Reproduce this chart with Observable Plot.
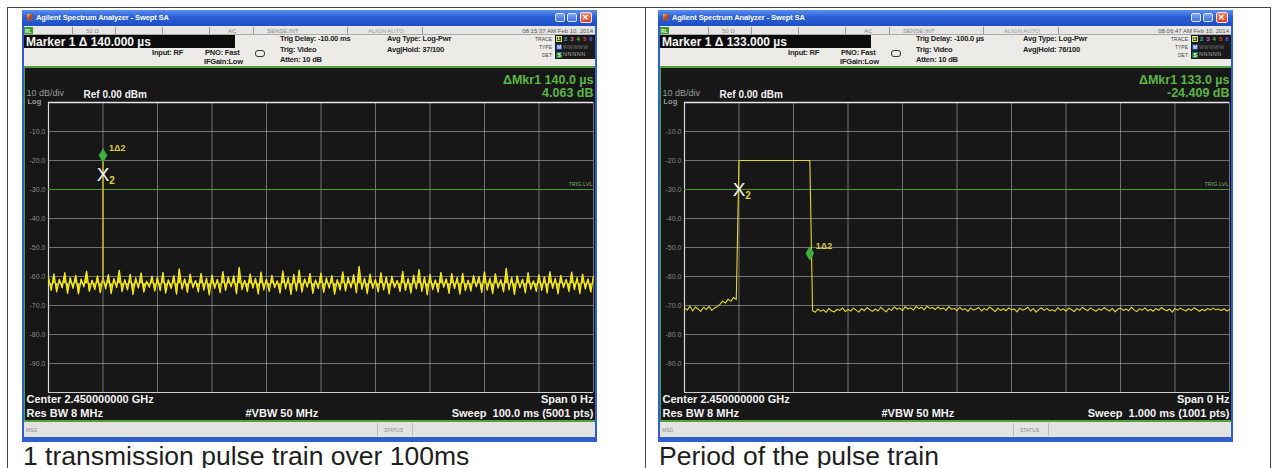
<!DOCTYPE html>
<html><head><meta charset="utf-8">
<script src="https://cdn.jsdelivr.net/npm/d3@7"></script>
<script src="https://cdn.jsdelivr.net/npm/@observablehq/plot@0.6"></script>
<style>
html,body{margin:0;padding:0;background:#fff;width:1276px;height:468px;overflow:hidden;font-family:"Liberation Sans",Arial,sans-serif;}
#root{position:relative;width:1276px;height:468px;overflow:hidden;}
.win{position:absolute;top:10px;width:575px;height:432px;background:#2f5fcc;}
.win svg{position:absolute;left:3px;top:58px;}
.caption{position:absolute;top:441px;font-size:26.5px;color:#1e1e1e;line-height:30px;white-space:nowrap;}
</style></head>
<body><div id="root"></div>
<script>
// ---------------- data ----------------
const dbGridTicks = [-100,-90,-80,-70,-60,-50,-40,-30,-20,-10,0];
const dbLabelTicks = [-10,-20,-30,-40,-50,-60,-70,-80,-90];
const trigLevelDbm = [-30];

// left panel: 100 ms sweep, trigger delay -10 ms
const leftTimeTicksMs = [-10,0,10,20,30,40,50,60,70,80,90];
const leftStartMs = -10, leftStepMs = 0.5;
const leftNoiseCenterDbm = -62.5;
const leftNoiseDbm = [
-60.2,-64.8,-59.1,-65.3,-61.0,-63.9,-58.7,-65.8,-60.4,-64.1,-59.6,-66.0,-60.9,-63.6,-58.2,-65.1,-61.3,-64.5,-59.8,-65.6,
-60.1,-64.3,-59.4,-65.9,-60.7,-63.8,-57.9,-65.2,-61.1,-64.6,-59.3,-66.2,-60.5,-64.0,-58.8,-65.4,-61.6,-63.7,-59.9,-65.0,
-60.3,-64.9,-58.6,-65.7,-61.2,-64.2,-59.7,-66.1,-57.4,-64.4,-60.8,-65.5,-59.2,-63.9,-61.4,-65.3,-58.9,-64.7,-60.6,-66.3,
-59.5,-64.1,-61.0,-65.6,-58.3,-64.8,-60.2,-63.6,-59.8,-65.9,-56.9,-64.5,-61.3,-65.2,-59.1,-64.0,-60.7,-66.0,-58.5,-64.6,
-60.9,-65.1,-59.6,-63.8,-61.5,-65.7,-58.1,-64.3,-60.4,-66.2,-59.3,-64.9,-57.8,-65.4,-60.8,-63.7,-59.0,-65.8,-61.2,-64.2,
-58.8,-65.5,-60.5,-64.0,-59.7,-66.1,-61.1,-64.7,-58.4,-65.0,-60.3,-63.9,-59.4,-65.6,-56.5,-64.4,-60.6,-65.9,-59.2,-64.1,
-61.0,-65.3,-58.7,-64.6,-60.1,-66.0,-59.9,-63.8,-61.4,-65.2,-58.2,-64.8,-60.7,-65.7,-59.5,-64.3,-57.6,-65.1,-60.2,-66.3,
-59.3,-64.5,-61.2,-65.4,-58.6,-63.7,-60.8,-65.8,-59.0,-64.2,-60.4,-66.1,-58.9,-64.9,-61.3,-65.0,-59.7,-63.6,-60.0,-65.5,
-58.4,-64.7,-60.6,-65.9,-59.1,-64.0,-61.1,-65.3,-57.2,-64.6,-60.3,-66.2,-59.8,-63.9,-60.9,-65.6,-58.7,-64.4,-61.5,-65.1,
-59.4,-64.8,-60.1,-65.7,-58.3,-64.1,-60.7,-66.0,-59.6,-63.8,-61.0,-65.2,-58.5,-64.5,-60.4,-65.9,-59.2,-64.3,-60.8,-65.4,
-60.0];
const leftSpikeTimeMs = [0];
const leftSpikeBaseDbm = [-62];
const leftSpikeTopDbm = [-17];
const leftRefMarkerTime = [0], leftRefMarkerDbm = [-25];
const leftDeltaMarkerTime = [0], leftDeltaMarkerDbm = [-18.3];

// right panel: 1 ms sweep, trigger delay -100 us
const rightTimeTicksUs = [-100,0,100,200,300,400,500,600,700,800,900];
const rightStartUs = -100, rightStepUs = 5;
const rightTraceDbm = [
-70.8,-71.6,-70.2,-71.9,-70.5,-71.2,-72.0,-70.6,-71.4,-70.3,-71.7,-70.9,
-70.4,-69.6,-68.5,-69.2,-67.8,-68.6,-67.2,-68.0,
-20,-20,-20,-20,-20,-20,-20,-20,-20,-20,-20,-20,-20,-20,-20,-20,-20,-20,-20,-20,-20,-20,-20,-20,-20,-20,-20,
-71.8,-72.3,-71.2,-72.0,-71.5,-72.4,-71.0,-71.9,-72.2,-71.3,
-71.7,-70.8,-72.1,-71.4,-71.9,-70.9,-71.6,-72.3,-71.1,-71.8,
-70.7,-71.5,-72.0,-71.2,-71.9,-70.6,-71.4,-72.2,-71.0,-71.7,
-70.5,-71.3,-70.9,-71.8,-70.4,-71.2,-70.8,-71.6,-70.3,-71.1,
-70.6,-71.5,-70.2,-71.0,-70.7,-71.4,-70.5,-71.2,-70.9,-71.7,
-70.4,-71.3,-71.0,-71.8,-70.6,-71.5,-71.1,-72.0,-70.8,-71.6,
-71.2,-70.7,-71.9,-71.0,-71.6,-70.5,-71.3,-72.1,-70.9,-71.7,
-71.1,-71.8,-70.8,-71.5,-71.2,-72.2,-70.9,-71.6,-71.3,-70.6,
-71.9,-71.1,-72.3,-71.4,-70.8,-71.7,-71.0,-71.8,-71.5,-72.0,
-70.7,-71.6,-71.2,-71.9,-70.9,-71.4,-72.1,-71.0,-71.7,-70.6,
-71.3,-71.8,-70.8,-71.5,-72.0,-71.1,-71.6,-70.7,-71.4,-71.9,
-71.0,-72.2,-71.3,-70.9,-71.7,-71.2,-71.8,-70.6,-71.5,-72.1,
-71.1,-71.6,-70.8,-71.9,-71.3,-72.0,-71.0,-71.7,-70.7,-71.4,
-71.8,-71.2,-72.3,-71.0,-71.6,-70.9,-71.5,-71.9,-71.1,-71.7,
-70.8,-71.4,-72.0,-71.3,-71.8,-71.0,-71.6,-70.9,-71.5,-71.2,
-71.7,-71.1,-71.9,-71.4];
const rightRefMarkerTime = [0], rightRefMarkerDbm = [-30];
const rightDeltaMarkerTime = [130], rightDeltaMarkerDbm = [-52];

// texts
const leftTexts = {
  marker: "Marker 1 \u0394  140.000 \u00b5s", trigDelay: "Trig Delay: -10.00 ms", avgHold: "Avg|Hold: 37/100",
  date: "08:15:37 AM Feb 10, 2014", mkr: "\u0394Mkr1 140.0 \u00b5s", mkrDb: "4.063 dB",
  sweep: "Sweep  100.0 ms (5001 pts)", caption: "1 transmission pulse train over 100ms"
};
const rightTexts = {
  marker: "Marker 1 \u0394  133.000 \u00b5s", trigDelay: "Trig Delay: -100.0 \u00b5s", avgHold: "Avg|Hold: 76/100",
  date: "08:06:47 AM Feb 10, 2014", mkr: "\u0394Mkr1 133.0 \u00b5s", mkrDb: "-24.409 dB",
  sweep: "Sweep  1.000 ms (1001 pts)", caption: "Period of the pulse train"
};

// ---------------- drawing ----------------
const root = document.getElementById("root");
function box(parent, x, y, w, h, css) {
  const d = document.createElement("div");
  d.style.cssText = `position:absolute;left:${x}px;top:${y}px;width:${w}px;height:${h}px;${css||""}`;
  parent.appendChild(d); return d;
}
function txt(parent, x, y, s, css, right) {
  const d = document.createElement("div");
  d.textContent = s;
  d.style.cssText = `position:absolute;white-space:nowrap;line-height:1;top:${y}px;transform:translateY(-50%);${css||""}`;
  if (right) d.style.right = (575 - x) + "px"; else d.style.left = x + "px";
  parent.appendChild(d); return d;
}

// table lines
box(root, 7, 7, 1264, 1, "background:#444");
box(root, 7, 7, 1, 461, "background:#444");
box(root, 645, 7, 1, 461, "background:#444");
box(root, 1270, 7, 1, 461, "background:#444");

function screen(o) {
  const traceData = o.values.map((v, i) => ({t: o.start + i * o.step, db: v}));
  return Plot.plot({
    width: 570, height: 352,
    marginLeft: 23, marginRight: 2, marginTop: 34, marginBottom: 28,
    style: {background: "#171717", fontFamily: "Liberation Sans, Arial, sans-serif", overflow: "visible"},
    x: {domain: o.domain, axis: null},
    y: {domain: [-100, 0], axis: null},
    marks: [
      Plot.gridX(o.xTicks, {stroke: "#bdbdbd", strokeOpacity: 0.55}),
      Plot.gridY(dbGridTicks, {stroke: "#bdbdbd", strokeOpacity: 0.55}),
      Plot.ruleY([0], {stroke: "#e6e6e6", strokeWidth: 1.5}),
      Plot.ruleX([o.domain[0]], {stroke: "#d6d6d6", strokeWidth: 1.2}),
      Plot.ruleY(dbGridTicks.slice(0,1), {stroke: "#cfcfcf", strokeWidth: 1.2}),
      Plot.ruleY(trigLevelDbm, {stroke: "#4c9a34", strokeWidth: 1}),
      Plot.text(trigLevelDbm, {y: d => d, frameAnchor: "right", dx: -1, dy: -5, text: () => "TRIG LVL", fontSize: 5.5, fill: "#7fa870", textAnchor: "end"}),
      Plot.axisY(dbLabelTicks, {anchor: "left", tickSize: 0, tickPadding: 3, fontSize: 7, fill: "#8a8a8a", tickFormat: d => d.toFixed(1), label: null}),
      Plot.text(["10 dB/div"], {frameAnchor: "top-left", dx: -22, dy: -9, lineAnchor: "middle", textAnchor: "start", fontSize: 9, fill: "#9a9a9a"}),
      Plot.text(["Log"], {frameAnchor: "top-left", dx: -21, dy: -1, lineAnchor: "middle", textAnchor: "start", fontSize: 7.5, fontWeight: "bold", fill: "#9a9a9a"}),
      Plot.text(["Ref 0.00 dBm"], {frameAnchor: "top-left", dx: 35, dy: -8, lineAnchor: "middle", textAnchor: "start", fontSize: 10, fontWeight: "bold", fill: "#f2f2f2"}),
      Plot.text([o.texts.mkr], {frameAnchor: "top-right", dy: -23, lineAnchor: "middle", textAnchor: "end", fontSize: 12.5, fontWeight: "bold", fill: "#5cb645"}),
      Plot.text([o.texts.mkrDb], {frameAnchor: "top-right", dy: -10, lineAnchor: "middle", textAnchor: "end", fontSize: 12.5, fontWeight: "bold", fill: "#5cb645"}),
      Plot.text(["Center 2.450000000 GHz"], {frameAnchor: "bottom-left", dx: -22, dy: 7, lineAnchor: "middle", textAnchor: "start", fontSize: 11, fontWeight: "bold", fill: "#f2f2f2"}),
      Plot.text(["Res BW 8 MHz"], {frameAnchor: "bottom-left", dx: -22, dy: 21, lineAnchor: "middle", textAnchor: "start", fontSize: 11, fontWeight: "bold", fill: "#f2f2f2"}),
      Plot.text(["#VBW 50 MHz"], {frameAnchor: "bottom-left", dx: 197, dy: 21, lineAnchor: "middle", textAnchor: "start", fontSize: 11, fontWeight: "bold", fill: "#f2f2f2"}),
      Plot.text(["Span 0 Hz"], {frameAnchor: "bottom-right", dy: 7, lineAnchor: "middle", textAnchor: "end", fontSize: 11, fontWeight: "bold", fill: "#f2f2f2"}),
      Plot.text([o.texts.sweep], {frameAnchor: "bottom-right", dy: 21, lineAnchor: "middle", textAnchor: "end", fontSize: 11, fontWeight: "bold", fill: "#f2f2f2"}),
      ...(o.bandCenter != null ? [Plot.areaY(traceData, {x: "t", y1: () => o.bandCenter, y2: "db", fill: o.traceColor, fillOpacity: 0.95})] : []),
      Plot.line(traceData, {x: "t", y: "db", stroke: o.traceColor, strokeWidth: o.traceWidth}),
      ...(o.spike ? [Plot.ruleX(o.spike.t, {x: d => d, y1: (d, i) => o.spike.base[i], y2: (d, i) => o.spike.top[i], stroke: "#cdb92a", strokeWidth: 1.5})] : []),
      Plot.text(o.refT, {x: d => d, y: (d, i) => o.refDb[i], text: () => "X", fontSize: 19, fill: "#f4f4f4", lineAnchor: "middle"}),
      Plot.text(o.refT, {x: d => d, y: (d, i) => o.refDb[i], text: () => "2", dx: 9, dy: 6, fontSize: 10, fontWeight: "bold", fill: "#e0d232", lineAnchor: "middle"}),
      Plot.dot(o.deltaT, {x: d => d, y: (d, i) => o.deltaDb[i], symbol: "diamond", r: 4.5, fill: "#3fae3c"}),
      Plot.text(o.deltaT, {x: d => d, y: (d, i) => o.deltaDb[i], text: () => "1\u03942", dx: 6, dy: -7, textAnchor: "start", fontSize: 9, fontWeight: "bold", fill: "#dccd2e", lineAnchor: "middle"})
    ]
  });
}

function panel(left, t, scr) {
  const w = box(root, left, 10, 575, 432, "background:#2f5fcc");
  w.className = "win";
  // title bar
  box(w, 0, 0, 575, 16, "background:linear-gradient(#5b8ff0,#2a5fd6 45%,#1e4fc4)");
  box(w, 5, 4, 6, 7, "background:linear-gradient(135deg,#e8c040,#c04020 50%,#3070c0)");
  txt(w, 14, 8, "Agilent Spectrum Analyzer - Swept SA", "font-size:7.5px;color:#fff;font-weight:bold;letter-spacing:-0.1px");
  box(w, 533, 3, 10, 9, "background:linear-gradient(#7fa8f8,#3e6fe0);border:1px solid #dfe8ff;border-radius:2px;box-sizing:border-box");
  box(w, 545, 3, 10, 9, "background:linear-gradient(#7fa8f8,#3e6fe0);border:1px solid #dfe8ff;border-radius:2px;box-sizing:border-box");
  box(w, 558, 2, 12, 11, "background:linear-gradient(#f08a6a,#d9401e);border:1px solid #fde;border-radius:2px;box-sizing:border-box");
  txt(w, 560, 7.5, "\u2715", "font-size:8px;color:#fff;font-weight:bold");
  // status row
  box(w, 2, 16, 571, 9, "background:#e6e6e4;border-bottom:1px solid #aaa;box-sizing:border-box");
  box(w, 2, 17, 9, 7, "background:#3d9a30");
  txt(w, 3, 20.5, "RL", "font-size:5px;color:#dfd;font-weight:bold");
  [50, 93, 140, 187, 231, 325, 400].forEach(x => box(w, x, 17, 1, 7, "background:#9a9a9a"));
  txt(w, 64, 20.5, "50 \u03a9", "font-size:6px;color:#888");
  txt(w, 206, 20.5, "AC", "font-size:6px;color:#888");
  txt(w, 245, 20.5, "SENSE:INT", "font-size:6px;color:#888");
  txt(w, 346, 20.5, "ALIGN AUTO", "font-size:6px;color:#999");
  txt(w, 571, 20.5, t.date, "font-size:6px;color:#555", true);
  // marker / info rows
  box(w, 2, 25, 571, 32, "background:#ecebe7");
  box(w, 2, 25, 211, 13, "background:#0c0c0c");
  txt(w, 4, 31.5, t.marker, "font-size:12px;color:#f4f4f4;font-weight:bold");
  const info = "font-size:7.5px;color:#222;font-weight:bold;letter-spacing:-0.2px";
  txt(w, 130, 43, "Input: RF", info);
  txt(w, 183, 43, "PNO: Fast", info);
  txt(w, 182, 52, "IFGain:Low", info);
  box(w, 233, 40, 10, 7, "border:1px solid #333;border-radius:3px;box-sizing:border-box");
  txt(w, 258, 29, t.trigDelay, info);
  txt(w, 258, 40, "Trig: Video", info);
  txt(w, 258, 50, "Atten: 10 dB", info);
  txt(w, 365, 29, "Avg Type: Log-Pwr", info);
  txt(w, 365, 40, t.avgHold, info);
  const lab = "font-size:5px;color:#444";
  txt(w, 530, 29, "TRACE", lab, true);
  txt(w, 530, 37, "TYPE", lab, true);
  txt(w, 530, 45, "DET", lab, true);
  box(w, 533, 25, 40, 24, "background:#1a1a1a");
  box(w, 534, 26, 6, 6, "background:#1f5a1f;border:1px solid #e8d840;box-sizing:border-box");
  const digits = [["2","#38b0c0"],["3","#e060c0"],["4","#58c058"],["5","#e04040"],["6","#6060e0"]];
  digits.forEach((d, i) => txt(w, 542 + i * 6.3, 29, d[0], `font-size:6px;font-weight:bold;color:${d[1]}`));
  txt(w, 535, 29, "1", "font-size:5.5px;font-weight:bold;color:#fff");
  box(w, 534, 34, 6, 6, "background:#2040a0");
  txt(w, 535, 37, "M", "font-size:5px;font-weight:bold;color:#fff");
  txt(w, 541, 37, "WWWWW", "font-size:5px;color:#777;letter-spacing:0.4px");
  box(w, 534, 42, 6, 6, "background:#208040");
  txt(w, 535.5, 45, "S", "font-size:5px;font-weight:bold;color:#fff");
  txt(w, 541, 45, "NNNNN", "font-size:5.5px;color:#aaa;letter-spacing:0.6px");
  // green separators + screen
  box(w, 2, 56, 571, 2, "background:#52a23c");
  box(w, 2, 58, 1, 352, "background:#52a23c");
  w.appendChild(scr);
  box(w, 2, 410, 571, 2, "background:#52a23c");
  // msg bar
  box(w, 2, 412, 571, 15, "background:#e3e3e1");
  txt(w, 4, 419.5, "MSG", "font-size:5px;color:#888");
  box(w, 355, 413, 1, 13, "background:#bbb");
  box(w, 390, 413, 1, 13, "background:#bbb");
  txt(w, 362, 419.5, "STATUS", "font-size:5px;color:#888");
  // caption
  const c = document.createElement("div");
  c.className = "caption"; c.textContent = t.caption;
  c.style.left = (left + 1) + "px";
  root.appendChild(c);
}

panel(22, leftTexts, screen({
  domain: [-10, 90], xTicks: leftTimeTicksMs, values: leftNoiseDbm, start: leftStartMs, step: leftStepMs,
  traceColor: "#f6ea12", traceWidth: 1.3, bandCenter: leftNoiseCenterDbm,
  spike: {t: leftSpikeTimeMs, base: leftSpikeBaseDbm, top: leftSpikeTopDbm},
  refT: leftRefMarkerTime, refDb: leftRefMarkerDbm, deltaT: leftDeltaMarkerTime, deltaDb: leftDeltaMarkerDbm,
  texts: leftTexts
}));
panel(658, rightTexts, screen({
  domain: [-100, 900], xTicks: rightTimeTicksUs, values: rightTraceDbm, start: rightStartUs, step: rightStepUs,
  traceColor: "#e2d82a", traceWidth: 1.1, bandCenter: null,
  spike: null,
  refT: rightRefMarkerTime, refDb: rightRefMarkerDbm, deltaT: rightDeltaMarkerTime, deltaDb: rightDeltaMarkerDbm,
  texts: rightTexts
}));
</script></body></html>
